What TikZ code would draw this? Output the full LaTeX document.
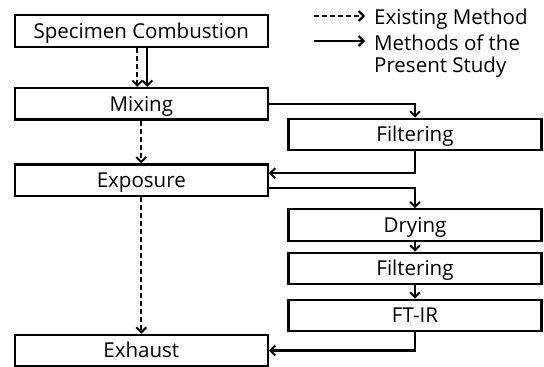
\documentclass[tikz,border=0pt]{standalone}
\usepackage{fontspec}
\setmainfont{Open Sans}
\usetikzlibrary{arrows.meta}
\begin{document}
\begin{tikzpicture}[x=1pt,y=-1pt,
  box/.style={draw,line width=2.1pt,minimum height=31.5pt,inner sep=0pt,text height=14.6pt,text depth=0pt,font=\fontsize{20.5}{24}\selectfont},
  lbox/.style={box,minimum width=253pt},
  rbox/.style={box,minimum width=253pt},
  con/.style={line width=2.1pt,-{Straight Barb[length=5pt,width=10pt,line width=2pt]}},
  dcon/.style={con,dash pattern=on 5pt off 3pt},
  legtext/.style={anchor=west,inner sep=0pt,font=\fontsize{20.5}{24}\selectfont}]
\useasboundingbox (0,0) rectangle (544,367);
\node[lbox] (spec) at (141.3,31) {Specimen Combustion};
\node[lbox] (mix) at (141.3,103.7) {Mixing};
\node[lbox] (exp) at (141.3,180.2) {Exposure};
\node[lbox] (exh) at (141.3,350.5) {Exhaust};
\node[rbox] (fil1) at (415,134.5) {Filtering};
\node[rbox] (dry) at (415,225) {Drying};
\node[rbox] (fil2) at (415,268.5) {Filtering};
\node[rbox] (ftir) at (415,315.5) {FT-IR};
% legend
\coordinate (l1a) at (314,16);
\coordinate (l1b) at (365,16);
\coordinate (l2a) at (314,41);
\coordinate (l2b) at (365,41);
\draw[dcon] (l1a) -- (l1b);
\draw[con] (l2a) -- (l2b);
\node[legtext] (t1) at (374,19) {Existing Method};
\node[legtext] (t2) at (374,43) {Methods of the};
\node[legtext] (t3) at (374,67) {Present Study};
% connectors
\draw[dcon] ([xshift=-4pt]spec.south) -- ([xshift=-4pt]mix.north);
\draw[con] ([xshift=6pt]spec.south) -- ([xshift=6pt]mix.north);
\draw[dcon] (mix.south) -- (exp.north);
\draw[dcon] (exp.south) -- (exh.north);
\draw[con] (mix.east) -| (fil1.north);
\draw[con] (fil1.south) |- ([yshift=7pt]exp.east);
\draw[con] ([yshift=-7.5pt]exp.east) -| (dry.north);
\draw[con] (dry.south) -- (fil2.north);
\draw[con] (fil2.south) -- (ftir.north);
\draw[con] (ftir.south) |- (exh.east);
\end{tikzpicture}
\end{document}
